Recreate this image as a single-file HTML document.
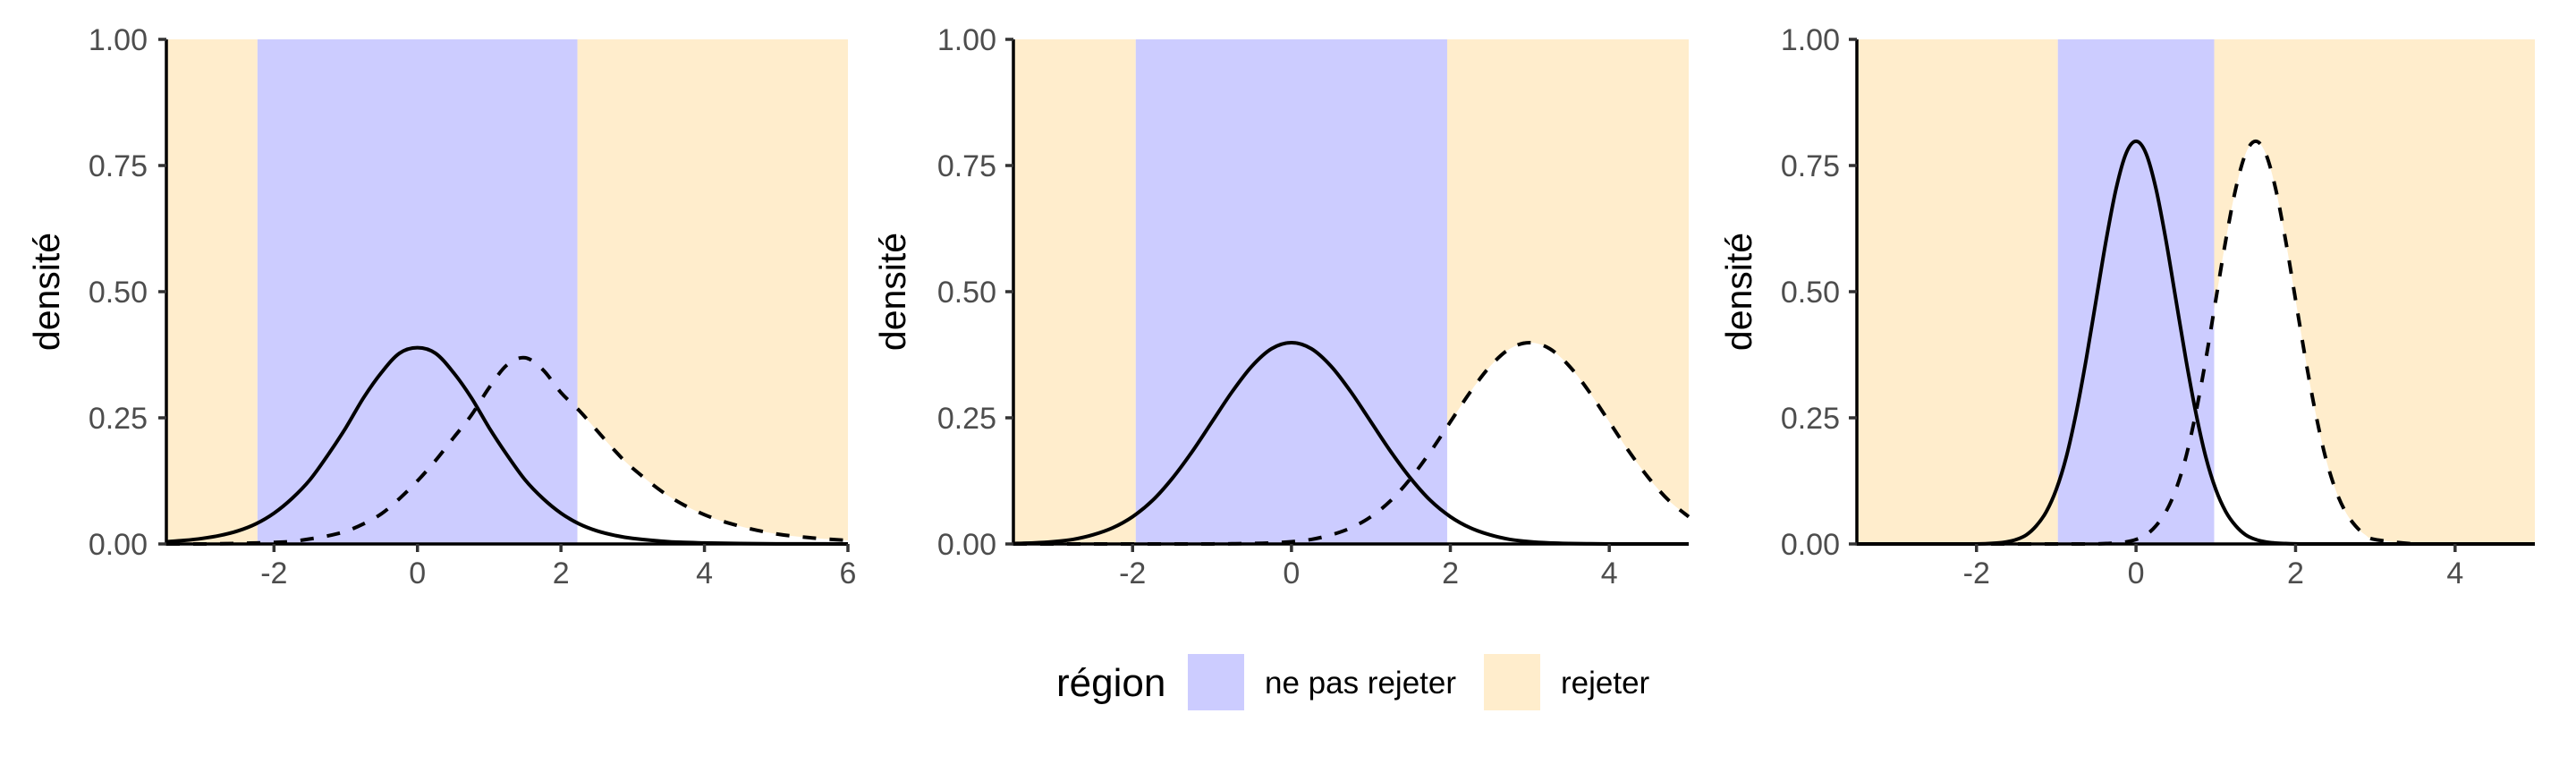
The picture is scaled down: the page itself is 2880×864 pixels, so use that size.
<!DOCTYPE html>
<html><head><meta charset="utf-8"><style>
body{margin:0;background:#fff}
svg{display:block;font-family:"Liberation Sans",sans-serif}
</style></head><body>
<svg id="c" width="2880" height="864"></svg>
<script>
const NS="http://www.w3.org/2000/svg";
const yTicks=[0,0.25,0.5,0.75,1];
const yTickLabels=["0.00","0.25","0.50","0.75","1.00"];
// panel 1
const p1x=[-3.5,-3.25,-3,-2.75,-2.5,-2.25,-2,-1.75,-1.5,-1.25,-1,-0.75,-0.5,-0.25,0,0.25,0.5,0.75,1,1.25,1.5,1.75,2,2.25,2.5,2.75,3,3.5,4,4.5,5,5.5,6];
const p1solid=[0.0045,0.007,0.011,0.017,0.026,0.040,0.061,0.090,0.127,0.176,0.230,0.290,0.340,0.378,0.389,0.378,0.340,0.290,0.230,0.176,0.127,0.090,0.061,0.040,0.026,0.017,0.011,0.0045,0.002,0.0008,0.0003,0.0002,0.0001];
const p1dash=[0,0,0,0.0005,0.001,0.002,0.003,0.005,0.01,0.016,0.025,0.04,0.06,0.09,0.125,0.165,0.21,0.255,0.31,0.355,0.369,0.345,0.30,0.265,0.225,0.185,0.15,0.095,0.058,0.035,0.02,0.012,0.007];
const p1crit=[-2.23,2.23];
const p1ticks=[-2,0,2,4,6];
// panel 2
const p2x=[-3.5,-3.25,-3,-2.75,-2.5,-2.25,-2,-1.75,-1.5,-1.25,-1,-0.75,-0.5,-0.25,0,0.25,0.5,0.75,1,1.25,1.5,1.75,2,2.25,2.5,2.75,3,3.25,3.5,3.75,4,4.25,4.5,4.75,5];
const p2solid=[0.0009,0.002,0.0044,0.009,0.018,0.032,0.054,0.086,0.130,0.183,0.242,0.301,0.352,0.387,0.399,0.387,0.352,0.301,0.242,0.183,0.130,0.086,0.054,0.032,0.018,0.009,0.0044,0.002,0.0009,0.0004,0.0001,0,0,0,0];
const p2dash=[0,0,0,0,0,0,0,0,0,0,0.0001,0.0004,0.0009,0.002,0.0044,0.009,0.018,0.032,0.054,0.086,0.130,0.183,0.242,0.301,0.352,0.387,0.399,0.387,0.352,0.301,0.242,0.183,0.130,0.086,0.054];
const p2crit=[-1.96,1.96];
const p2ticks=[-2,0,2,4];
// panel 3
const p3x=[-3.5,-3,-2.5,-2,-1.75,-1.625,-1.5,-1.375,-1.25,-1.125,-1,-0.875,-0.75,-0.625,-0.5,-0.375,-0.25,-0.125,0,0.125,0.25,0.375,0.5,0.625,0.75,0.875,1,1.125,1.25,1.375,1.5,1.625,1.75,1.875,2,2.125,2.25,2.375,2.5,2.625,2.75,2.875,3,3.5,4,4.5,5];
const p3solid=[0,0,0,0,0.0018,0.004,0.0088,0.018,0.036,0.064,0.108,0.172,0.260,0.366,0.484,0.602,0.704,0.774,0.798,0.774,0.704,0.602,0.484,0.366,0.260,0.172,0.108,0.064,0.036,0.018,0.0088,0.004,0.0018,0.0008,0.0002,0,0,0,0,0,0,0,0,0,0,0,0];
const p3dash=[0,0,0,0,0,0,0,0,0,0,0,0,0,0,0.0002,0.0008,0.0018,0.004,0.0088,0.018,0.036,0.064,0.108,0.172,0.260,0.366,0.484,0.602,0.704,0.774,0.798,0.774,0.704,0.602,0.484,0.366,0.260,0.172,0.108,0.064,0.036,0.018,0.0088,0,0,0,0];
const p3crit=[-0.98,0.98];
const p3ticks=[-2,0,2,4];

const panels=[
 {name:"panel-1",L:186,R:948,xmin:-3.5,xmax:6,xs:p1x,solid:p1solid,dash:p1dash,crit:p1crit,ticks:p1ticks,ytl:165,yt:66},
 {name:"panel-2",L:1133,R:1888,xmin:-3.5,xmax:5,xs:p2x,solid:p2solid,dash:p2dash,crit:p2crit,ticks:p2ticks,ytl:1114,yt:1012},
 {name:"panel-3",L:2076,R:2834,xmin:-3.5,xmax:5,xs:p3x,solid:p3solid,dash:p3dash,crit:p3crit,ticks:p3ticks,ytl:2057,yt:1958}
];
const T=44,B=608;
const svg=document.getElementById("c");
function el(t,a,p){const e=document.createElementNS(NS,t);for(const k in a)e.setAttribute(k,a[k]);(p||svg).appendChild(e);return e;}
function smooth(pts){let d="M"+pts[0][0]+","+pts[0][1];
 for(let i=0;i<pts.length-1;i++){const p0=pts[Math.max(0,i-1)],p1=pts[i],p2=pts[i+1],p3=pts[Math.min(pts.length-1,i+2)];
  const c1=[p1[0]+(p2[0]-p0[0])/6,p1[1]+(p2[1]-p0[1])/6],c2=[p2[0]-(p3[0]-p1[0])/6,p2[1]-(p3[1]-p1[1])/6];
  d+=" C"+c1[0]+","+Math.min(B,c1[1])+" "+c2[0]+","+Math.min(B,c2[1])+" "+p2[0]+","+p2[1];}
 return d;}
panels.forEach((P,pi)=>{
 const g=el("g",{});
 
 
 const X=v=>P.L+(v-P.xmin)/(P.xmax-P.xmin)*(P.R-P.L);
 const Y=v=>B-v*(B-T);
 const r1=el("rect",{x:P.L,y:T,width:X(P.crit[0])-P.L,height:B-T,fill:"#FFEDCC"},g);
 
 
 const r2=el("rect",{x:X(P.crit[0]),y:T,width:X(P.crit[1])-X(P.crit[0]),height:B-T,fill:"#CCCCFF"},g);
 
 
 const r3=el("rect",{x:X(P.crit[1]),y:T,width:P.R-X(P.crit[1]),height:B-T,fill:"#FFEDCC"},g);
 
 
 const dpts=P.xs.map((x,i)=>[X(x),Y(P.dash[i])]);
 const spts=P.xs.map((x,i)=>[X(x),Y(P.solid[i])]);
 const cp=el("clipPath",{id:"cp"+pi},g);
 el("rect",{x:X(P.crit[1]),y:T,width:P.R-X(P.crit[1]),height:B-T},cp);
 const w=el("path",{d:smooth(dpts)+" L"+P.R+","+B+" L"+P.L+","+B+"Z",fill:"#fff","clip-path":"url(#cp"+pi+")"},g);
 
 
 const s=el("path",{d:smooth(spts),fill:"none",stroke:"#000","stroke-width":4},g);
 
 
 const dd=el("path",{d:smooth(dpts),fill:"none",stroke:"#000","stroke-width":4,"stroke-dasharray":"15,15"},g);
 
 
 el("line",{x1:P.L,y1:T,x2:P.L,y2:B+1.5,stroke:"#000","stroke-width":3.5},g);
 el("line",{x1:P.L-1.5,y1:B,x2:P.R,y2:B,stroke:"#000","stroke-width":3.5},g);
 yTicks.forEach((v,i)=>{
  el("line",{x1:P.L-9,y1:Y(v),x2:P.L,y2:Y(v),stroke:"#333","stroke-width":3.5},g);
  const t=el("text",{x:P.ytl,y:Y(v)+12,"text-anchor":"end","font-size":34,fill:"#4d4d4d"},g);
  t.textContent=yTickLabels[i];
  
  
 });
 P.ticks.forEach(v=>{
  el("line",{x1:X(v),y1:B,x2:X(v),y2:B+9,stroke:"#333","stroke-width":3.5},g);
  const t=el("text",{x:X(v),y:B+44,"text-anchor":"middle","font-size":34,fill:"#4d4d4d"},g);
  t.textContent=String(v);
  
  
 });
 const yt=el("text",{x:P.yt,y:(T+B)/2,"text-anchor":"middle","font-size":41,fill:"#000",transform:"rotate(-90 "+P.yt+" "+(T+B)/2+")"},g);
 yt.textContent="densité";
 
 
});
</script>
<svg style="position:absolute;left:0;top:0" width="2880" height="864">
 <text x="1181" y="778" font-size="44" font-family="Liberation Sans,sans-serif">région</text>
 <rect x="1328" y="731" width="63" height="63" fill="#CCCCFF"/>
 <text x="1414" y="775" font-size="35" font-family="Liberation Sans,sans-serif">ne pas rejeter</text>
 <rect x="1659" y="731" width="63" height="63" fill="#FFEDCC"/>
 <text x="1745" y="775" font-size="35" font-family="Liberation Sans,sans-serif">rejeter</text>
</svg>
</body></html>
